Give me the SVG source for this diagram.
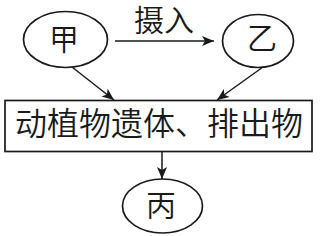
<svg xmlns="http://www.w3.org/2000/svg" width="323" height="236" viewBox="0 0 323 236">
<style>
.n{fill:none;stroke:#1a1a1a;stroke-width:1.7}
.t{font-family:"Noto Sans CJK SC","Noto Sans",sans-serif;font-weight:350;fill:#1a1a1a;text-anchor:middle}
.c{stroke:#1a1a1a;stroke-width:1.5;fill:none}
</style>
<defs>
<marker id="a" viewBox="0 0 12 10" refX="12" refY="5" markerWidth="12" markerHeight="10" markerUnits="userSpaceOnUse" orient="auto">
<path d="M0,0 L12,5 L0,10 L3,5 Z" fill="#1a1a1a"/>
</marker>
</defs>
<rect width="323" height="236" fill="#fff"/>
<g id="jia"><ellipse class="n" cx="65.5" cy="39.5" rx="42" ry="28"/><text class="t" x="64" y="50" font-size="30">甲</text></g>
<g id="yi"><ellipse class="n" cx="258" cy="41" rx="35.5" ry="26.5"/><text class="t" x="262" y="49" font-size="30">乙</text></g>
<g id="box"><rect class="n" x="5" y="100.5" width="307" height="51"/><text class="t" x="159" y="134.5" font-size="32">动植物遗体、排出物</text></g>
<g id="bing"><ellipse class="n" cx="162.5" cy="206" rx="40" ry="27"/><text class="t" x="161" y="216" font-size="30">丙</text></g>
<g id="connectors">
<line class="c" x1="115" y1="41" x2="214" y2="41" marker-end="url(#a)"/>
<text class="t" x="164" y="31" font-size="30">摄入</text>
<line class="c" x1="72" y1="67" x2="114" y2="100" marker-end="url(#a)"/>
<line class="c" x1="263" y1="67" x2="217" y2="100" marker-end="url(#a)"/>
<line class="c" x1="162" y1="152" x2="162" y2="179" marker-end="url(#a)"/>
</g>
</svg>
